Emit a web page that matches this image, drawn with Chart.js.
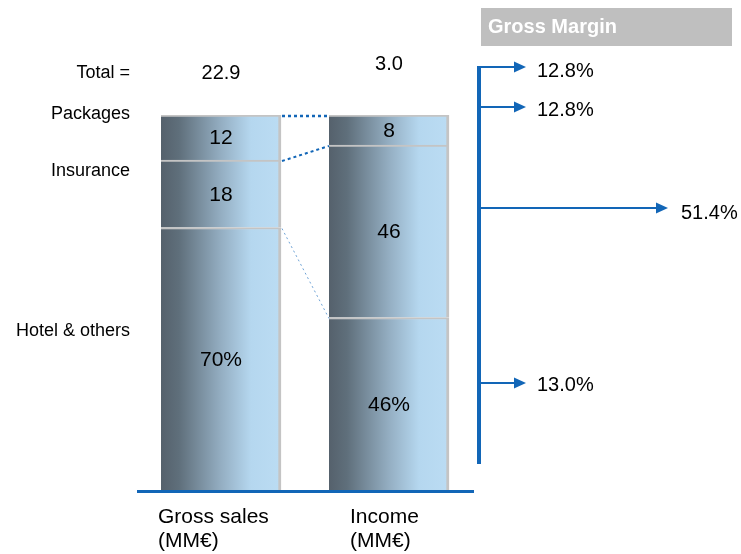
<!DOCTYPE html>
<html lang="en">
<head>
    <meta charset="UTF-8">
    <title>Gross sales vs Income</title>
    <script src="https://cdn.jsdelivr.net/npm/chart.js"></script>
    <style>
        body {
            margin: 0;
            background: #fff;
        }
        #chart {
            display: block;
        }
    </style>
</head>
<body>
<canvas id="chart" width="741" height="554"></canvas>

<script>
    // data
    const categories = ['Gross sales', 'Income'];
    const segments = ['Hotel & others', 'Insurance', 'Packages'];
    const hotel = [70, 46];
    const insurance = [18, 46];
    const packages = [12, 8];
    const totals = ['22.9', '3.0'];
    const margins = ['12.8%', '12.8%', '51.4%', '13.0%'];

    const FONT = '"Liberation Sans", Arial, sans-serif';
    const BLUE = '#1266b7';
    const BAR_W = 120;

    function barFill(c) {
        const ch = c.chart;
        const xs = ch.scales.x;
        if (!xs || !ch.chartArea) return '#8aa1b3';
        const cx = xs.getPixelForValue(c.dataIndex);
        const g = ch.ctx.createLinearGradient(cx - BAR_W / 2, 0, cx + BAR_W / 2, 0);
        g.addColorStop(0, '#55616c');
        g.addColorStop(0.15, '#5f6f7b');
        g.addColorStop(0.5, '#94aec2');
        g.addColorStop(0.75, '#b5d7ef');
        g.addColorStop(1, '#bbdcf3');
        return g;
    }

    function text(ctx, s, x, y, size, align, bold, color) {
        ctx.font = (bold ? 'bold ' : '') + size + 'px ' + FONT;
        ctx.textAlign = align || 'center';
        ctx.textBaseline = 'middle';
        ctx.fillStyle = color || '#000';
        ctx.fillText(s, x, y);
    }

    function arrow(ctx, x0, x1, y) {
        ctx.strokeStyle = BLUE;
        ctx.lineWidth = 2;
        ctx.beginPath();
        ctx.moveTo(x0, y);
        ctx.lineTo(x1 - 10, y);
        ctx.stroke();
        ctx.fillStyle = BLUE;
        ctx.beginPath();
        ctx.moveTo(x1, y);
        ctx.lineTo(x1 - 12, y - 5.5);
        ctx.lineTo(x1 - 12, y + 5.5);
        ctx.closePath();
        ctx.fill();
    }

    const extras = {
        id: 'extras',
        afterDatasetsDraw(chart) {
            const ctx = chart.ctx;
            const area = chart.chartArea;
            ctx.save();

            // values inside the segments
            chart.data.datasets.forEach((ds, i) => {
                chart.getDatasetMeta(i).data.forEach((el, j) => {
                    const v = ds.data[j] + (i === 0 ? '%' : '');
                    text(ctx, v, el.x, (el.y + el.base) / 2 + 1, 21);
                });
            });

            // dotted connectors between segment tops
            const widths = [1, 2, 2.5];
            const colors = ['#6fa3d6', BLUE, BLUE];
            chart.data.datasets.forEach((ds, i) => {
                const els = chart.getDatasetMeta(i).data;
                const a = els[0], b = els[1];
                ctx.strokeStyle = colors[i];
                ctx.lineWidth = widths[i];
                ctx.setLineDash(i === 0 ? [2, 3] : [3, 3]);
                ctx.beginPath();
                ctx.moveTo(a.x + BAR_W / 2 + 1, a.y + 1);
                ctx.lineTo(b.x - BAR_W / 2, b.y + 1);
                ctx.stroke();
            });
            ctx.setLineDash([]);

            // totals above the bars
            const xs = chart.scales.x;
            text(ctx, 'Total =', 130, 73, 18, 'right');
            text(ctx, totals[0], xs.getPixelForValue(0), 73, 20);
            text(ctx, totals[1], xs.getPixelForValue(1), 64, 20);

            // segment names on the left
            text(ctx, 'Packages', 130, 114, 18, 'right');
            text(ctx, 'Insurance', 130, 171, 18, 'right');
            text(ctx, 'Hotel & others', 130, 331, 18, 'right');

            // category labels under the bars
            text(ctx, categories[0], 158, 517, 21, 'left');
            text(ctx, '(MM€)', 158, 541, 21, 'left');
            text(ctx, categories[1], 350, 517, 21, 'left');
            text(ctx, '(MM€)', 350, 541, 21, 'left');

            // baseline
            ctx.fillStyle = BLUE;
            ctx.fillRect(137, area.bottom, 337, 3);

            // gross margin panel
            ctx.fillStyle = '#bfbfbf';
            ctx.fillRect(481, 8, 251, 38);
            text(ctx, 'Gross Margin', 488, 27, 20, 'left', true, '#fff');

            ctx.fillStyle = BLUE;
            ctx.fillRect(477, 66, 4, 398);
            arrow(ctx, 479, 526, 67);
            arrow(ctx, 479, 526, 107);
            arrow(ctx, 479, 668, 208);
            arrow(ctx, 479, 526, 383);

            text(ctx, margins[0], 537, 71, 20, 'left');
            text(ctx, margins[1], 537, 110, 20, 'left');
            text(ctx, margins[2], 681, 213, 20, 'left');
            text(ctx, margins[3], 537, 385, 20, 'left');

            ctx.restore();
        }
    };

    const common = {
        backgroundColor: barFill,
        borderColor: '#c4c4c4',
        borderWidth: { top: 2, right: 3, left: 0, bottom: 0 },
        borderSkipped: false,
        barThickness: BAR_W
    };

    new Chart(document.getElementById('chart'), {
        type: 'bar',
        data: {
            labels: categories,
            datasets: [
                Object.assign({ label: segments[0], data: hotel }, common),
                Object.assign({ label: segments[1], data: insurance }, common),
                Object.assign({ label: segments[2], data: packages }, common)
            ]
        },
        options: {
            responsive: false,
            animation: false,
            layout: { padding: { left: 137, right: 268, top: 115, bottom: 64 } },
            plugins: {
                legend: { display: false },
                tooltip: { enabled: false }
            },
            scales: {
                x: { stacked: true, display: false },
                y: { stacked: true, display: false, min: 0, max: 100 }
            }
        },
        plugins: [extras]
    });
</script>
</body>
</html>
